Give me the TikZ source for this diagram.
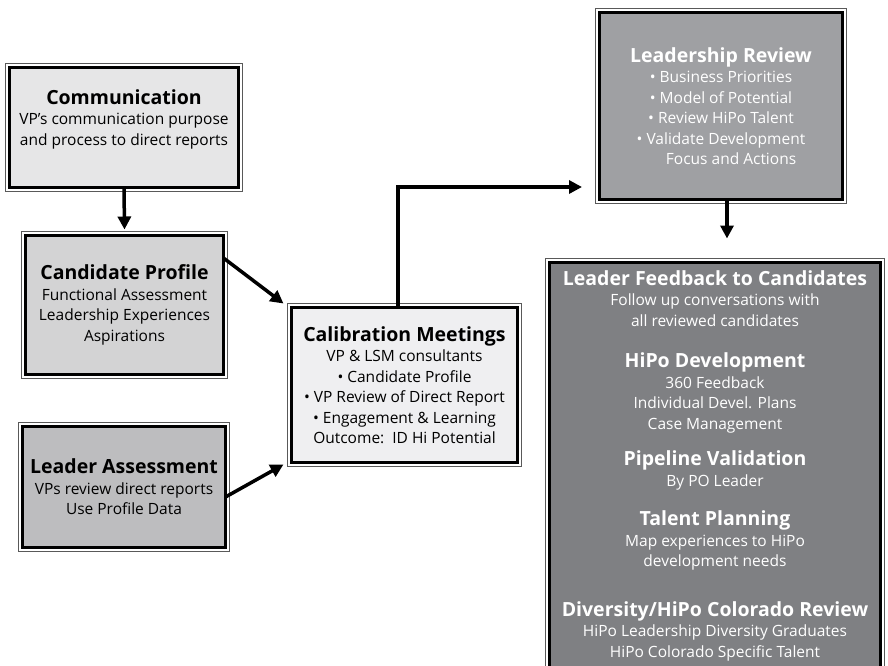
\documentclass[tikz,border=0pt]{standalone}
\usepackage{fontspec}
\setmainfont{Open Sans}
\usetikzlibrary{arrows.meta}

\definecolor{commgray}{HTML}{E6E6E7}
\definecolor{candgray}{HTML}{D3D3D4}
\definecolor{leadgray}{HTML}{BDBDBF}
\definecolor{calibgray}{HTML}{EFEFF1}
\definecolor{reviewgray}{HTML}{9FA0A3}
\definecolor{feedgray}{HTML}{7F8083}

\tikzset{
  panel/.style={draw=black, line width=3pt, align=center, inner sep=0pt, outer sep=0pt,
    font=\fontsize{15.5}{20.5}\selectfont},
  frame/.style={draw=black!65, line width=0.8pt},
  flow/.style={line width=3.5pt, -{Triangle[length=13pt,width=13pt]}},
}
\newcommand{\hd}[1]{{\fontsize{19.5}{21}\selectfont\bfseries #1}}

\begin{document}
\begin{tikzpicture}
  \useasboundingbox (0,0) rectangle (888pt,-665pt);
  % boxes
  \node[panel, fill=commgray, minimum width=229pt, minimum height=120pt] (comm) at (124pt,-127pt)
    {\hd{Communication}\\ VP’s communication purpose\\ and process to direct reports\\[-1pt] \mbox{}};
  \node[panel, fill=candgray, minimum width=198pt, minimum height=139pt] (cand) at (124.5pt,-305pt)
    {\hd{Candidate Profile}\\ Functional Assessment\\ Leadership Experiences\\ Aspirations};
  \node[panel, fill=leadgray, minimum width=203pt, minimum height=121pt] (lead) at (124pt,-487pt)
    {\hd{Leader Assessment}\\ VPs review direct reports\\ Use Profile Data};
  \node[panel, fill=calibgray, minimum width=226pt, minimum height=155pt] (calib) at (404.5pt,-385pt)
    {\hd{Calibration Meetings}\\ VP \& LSM consultants\\ • Candidate Profile\\ • VP Review of Direct Report\\
     • Engagement \& Learning\\ Outcome:\ \ ID Hi Potential};
  \node[panel, fill=reviewgray, text=white, minimum width=243pt, minimum height=187pt] (review) at (721pt,-106pt)
    {\hd{Leadership Review}\\ • Business Priorities\\ • Model of Potential\\ • Review HiPo Talent\\
     • Validate Development\\ \hspace*{1.3em}Focus and Actions};
  \node[panel, fill=feedgray, minimum width=331pt, minimum height=440pt, anchor=north] (feed) at (715pt,-262.5pt) {};
  \node[panel, draw=none, text=white, anchor=north] (feedtxt) at ([yshift=-8pt]feed.north)
    {\hd{Leader Feedback to Candidates}\\ Follow up conversations with\\ all reviewed candidates\\[21pt]
     \hd{HiPo Development}\\ 360 Feedback\\ Individual Devel. Plans\\ Case Management\\[16pt]
     \hd{Pipeline Validation}\\ By PO Leader\\[19pt]
     \hd{Talent Planning}\\ Map experiences to HiPo\\ development needs\\[29pt]
     \hd{Diversity/HiPo Colorado Review}\\ HiPo Leadership Diversity Graduates\\ HiPo Colorado Specific Talent};
  % outer thin frames
  \foreach \n in {comm,cand,lead,calib,review,feed}
    \draw[frame] ([shift={(-4pt,4pt)}]\n.north west) rectangle ([shift={(4pt,-4pt)}]\n.south east);
  % arrows
  \coordinate (drop) at ([xshift=6pt]review.south);
  \draw[flow] (comm.south) -- ([yshift=6pt]cand.north);
  \draw[flow] ([yshift=47pt]cand.east) -- ([shift={(-8pt,4pt)}]calib.north west);
  \draw[flow] ([yshift=-10pt]lead.east) -- ([shift={(-8pt,-2pt)}]calib.south west);
  \draw[flow] ([xshift=-6.5pt]calib.north) |- ([shift={(-17.5pt,12.5pt)}]review.south west);
  \draw[flow, shorten >=24pt] (drop) -- (drop |- feed.north);
\end{tikzpicture}
\end{document}
